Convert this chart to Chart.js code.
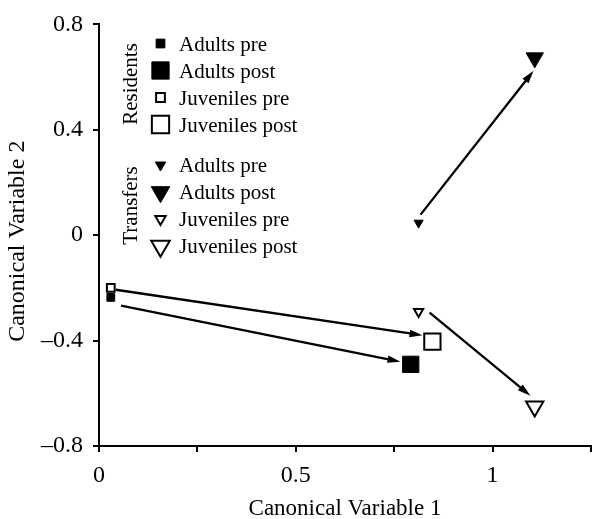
<!DOCTYPE html>
<html>
<head>
<meta charset="utf-8">
<script src="https://cdn.jsdelivr.net/npm/chart.js@4/dist/chart.umd.min.js"></script>
<style>
  html, body { margin: 0; padding: 0; background: #fff; }
  #wrap { width: 610px; height: 519px; }
</style>
</head>
<body>
<div id="wrap"><canvas id="cva-chart" width="610" height="519"></canvas></div>
<script>
// groups and stages as shown in the in-plot legend
const groups = ["Residents", "Transfers"];
const stages = ["Adults pre", "Adults post", "Juveniles pre", "Juveniles post"];

// canonical variable scores, one per stage
const residentsX = [0.030, 0.792, 0.030, 0.847];
const residentsY = [-0.236, -0.490, -0.200, -0.404];
const transfersX = [0.812, 1.107, 0.812, 1.107];
const transfersY = [0.047, 0.673, -0.290, -0.650];

// arrows pre -> post (data coordinates)
const arrowFromX = [0.043, 0.056, 0.840, 0.817];
const arrowFromY = [-0.207, -0.267, -0.294, 0.078];
const arrowToX = [0.822, 0.766, 1.096, 1.104];
const arrowToY = [-0.380, -0.480, -0.609, 0.624];

const xTickLabels = { 0: "0", 0.5: "0.5", 1: "1" };
const yTickLabels = { 0.8: "0.8", 0.4: "0.4", 0: "0", "-0.4": "\u20130.4", "-0.8": "\u20130.8" };
const yTitle = "Canonical Variable 2";

const serif = "'Liberation Serif', 'Times New Roman', serif";

// marker look per stage: small filled, big filled, small open, big open
const stageFilled = [true, true, false, false];
const stageBig = [false, true, false, true];

function markerStyle(group, i) {
  const square = group === 0;
  const big = stageBig[i];
  return {
    pointStyle: square ? "rect" : "triangle",
    rotation: square ? 0 : 180,
    radius: square ? (big ? 11.5 : 5.5) : (big ? 10 : 5.3),
    borderWidth: stageFilled[i] ? 1 : 2,
    fill: stageFilled[i] ? "#000" : "#fff"
  };
}

const datasets = [];
groups.forEach((g, gi) => {
  const xs = gi === 0 ? residentsX : transfersX;
  const ys = gi === 0 ? residentsY : transfersY;
  stages.forEach((s, si) => {
    const m = markerStyle(gi, si);
    datasets.push({
      label: g + " " + s,
      group: gi,
      stage: si,
      data: [{ x: xs[si], y: ys[si] }],
      pointStyle: m.pointStyle,
      pointRotation: m.rotation,
      pointRadius: m.radius,
      pointHoverRadius: m.radius,
      pointBorderWidth: m.borderWidth,
      pointBackgroundColor: m.fill,
      pointBorderColor: "#000"
    });
  });
});

const arrowPlugin = {
  id: "arrows",
  afterDatasetsDraw(chart) {
    const { ctx, scales } = chart;
    ctx.save();
    ctx.strokeStyle = "#000";
    ctx.fillStyle = "#000";
    ctx.lineWidth = 2.3;
    for (let i = 0; i < arrowFromX.length; i++) {
      const x1 = scales.x.getPixelForValue(arrowFromX[i]);
      const y1 = scales.y.getPixelForValue(arrowFromY[i]);
      const x2 = scales.x.getPixelForValue(arrowToX[i]);
      const y2 = scales.y.getPixelForValue(arrowToY[i]);
      const ang = Math.atan2(y2 - y1, x2 - x1);
      const head = 13, half = 3.8;
      const bx = x2 - head * Math.cos(ang), by = y2 - head * Math.sin(ang);
      ctx.beginPath();
      ctx.moveTo(x1, y1);
      ctx.lineTo(bx + 2 * Math.cos(ang), by + 2 * Math.sin(ang));
      ctx.stroke();
      ctx.beginPath();
      ctx.moveTo(x2, y2);
      ctx.lineTo(bx + half * Math.sin(ang), by - half * Math.cos(ang));
      ctx.lineTo(bx - half * Math.sin(ang), by + half * Math.cos(ang));
      ctx.closePath();
      ctx.fill();
    }
    ctx.restore();
  }
};

// legend drawn inside the plot, with rotated group labels, plus the y title
const legendPlugin = {
  id: "inPlotLegend",
  afterDraw(chart) {
    const ctx = chart.ctx;
    const markerX = 160.5, textX = 179;
    const rowTop = 43.5, rowStep = 27, groupStep = 121.5;
    ctx.save();
    chart.data.datasets.forEach(ds => {
      const y = rowTop + ds.group * groupStep + ds.stage * rowStep;
      const m = markerStyle(ds.group, ds.stage);
      ctx.fillStyle = m.fill;
      ctx.strokeStyle = "#000";
      ctx.lineWidth = m.borderWidth;
      Chart.helpers.drawPoint(ctx, {
        pointStyle: m.pointStyle, rotation: m.rotation,
        radius: m.radius + 0.7, borderWidth: m.borderWidth
      }, markerX, y);
      ctx.fillStyle = "#000";
      ctx.font = "21px " + serif;
      ctx.textAlign = "left";
      ctx.textBaseline = "alphabetic";
      ctx.fillText(stages[ds.stage], textX, y + 7);
    });
    groups.forEach((g, gi) => {
      const cy = rowTop + gi * groupStep + 1.5 * rowStep;
      ctx.save();
      ctx.translate(137, cy);
      ctx.rotate(-Math.PI / 2);
      ctx.font = "21px " + serif;
      ctx.textAlign = "center";
      ctx.textBaseline = "alphabetic";
      ctx.fillStyle = "#000";
      ctx.fillText(g, 0, 0);
      ctx.restore();
    });
    // y axis title, slightly below the axis middle as in the original
    const ya = chart.chartArea;
    ctx.save();
    ctx.translate(24, (ya.top + ya.bottom) / 2 + 6);
    ctx.rotate(-Math.PI / 2);
    ctx.font = "24px " + serif;
    ctx.textAlign = "center";
    ctx.textBaseline = "alphabetic";
    ctx.fillStyle = "#000";
    ctx.fillText(yTitle, 0, 0);
    ctx.restore();
    ctx.restore();
  }
};

new Chart(document.getElementById("cva-chart"), {
  type: "scatter",
  data: { datasets: datasets },
  plugins: [arrowPlugin, legendPlugin],
  options: {
    responsive: false,
    animation: false,
    events: [],
    layout: { autoPadding: false, padding: { top: 24, right: 19, bottom: 0, left: 0 } },
    plugins: { legend: { display: false }, tooltip: { enabled: false } },
    scales: {
      x: {
        type: "linear",
        min: 0,
        max: 1.25,
        afterFit(scale) { scale.height = 73; },
        border: { color: "#000", width: 2 },
        grid: { drawOnChartArea: false, drawTicks: true, tickLength: 6, color: "#000", lineWidth: 2 },
        ticks: {
          stepSize: 0.25,
          color: "#000",
          padding: 9,
          maxRotation: 0,
          autoSkip: false,
          font: { family: serif, size: 24 },
          callback: v => xTickLabels[v] !== undefined ? xTickLabels[v] : ""
        },
        title: {
          display: true,
          text: "Canonical Variable 1",
          color: "#000",
          font: { family: serif, size: 23, lineHeight: 0.85 },
          padding: { top: 0, bottom: 0 }
        }
      },
      y: {
        type: "linear",
        min: -0.8,
        max: 0.8,
        afterFit(scale) { scale.width = 99; },
        border: { color: "#000", width: 2 },
        grid: { drawOnChartArea: false, drawTicks: true, tickLength: 6, color: "#000", lineWidth: 2 },
        ticks: {
          stepSize: 0.4,
          color: "#000",
          padding: 10,
          font: { family: serif, size: 24 },
          callback: v => {
            const k = String(Math.round(v * 10) / 10);
            return yTickLabels[k] !== undefined ? yTickLabels[k] : "";
          }
        },
        title: { display: false }
      }
    }
  }
});
</script>
</body>
</html>
